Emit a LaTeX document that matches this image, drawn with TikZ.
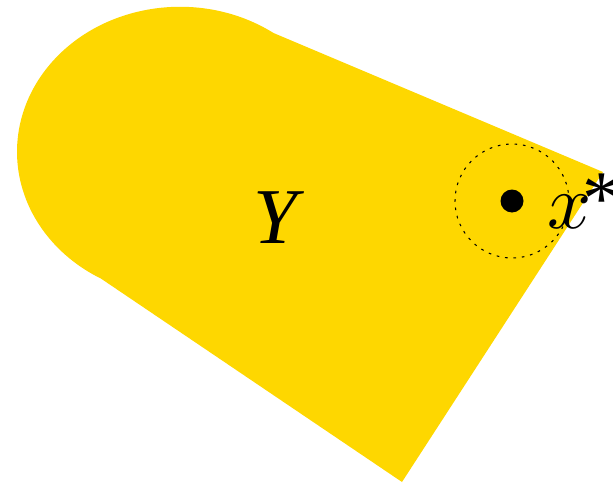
\documentclass[tikz,border=0pt]{standalone}
\usepackage{fontspec}
\setmainfont{Liberation Serif}
\definecolor{setgold}{RGB}{254,215,0}

\begin{document}
\begin{tikzpicture}[every node/.style={inner sep=0pt,font=\itshape}, setfill/.style={fill=setgold}, ball/.style={draw,line width=0.6pt,dash pattern=on 1.5pt off 3.3pt}]
  \useasboundingbox (0,0) rectangle (12.26,9.66);
  \coordinate (apex) at (12.06,6.22);
  \coordinate (tip) at (8.04,0.02);
  \coordinate (xs) at (10.24,5.64);
  \fill[setfill] (apex) -- (5.47,9.0) arc[start angle=55,end angle=241,x radius=3.26,y radius=2.9] -- (tip) -- cycle;
  \draw[ball] (xs) circle (1.14);
  \fill (xs) circle (0.23);
  \node[scale=4.5] (Y) at (5.50,5.30) {Y};
  \node[scale=4.4,anchor=base west] (xlab) at (10.92,5.10) {$x$\kern-0.12em\upshape\raisebox{0.05em}{*}};
\end{tikzpicture}
\end{document}
